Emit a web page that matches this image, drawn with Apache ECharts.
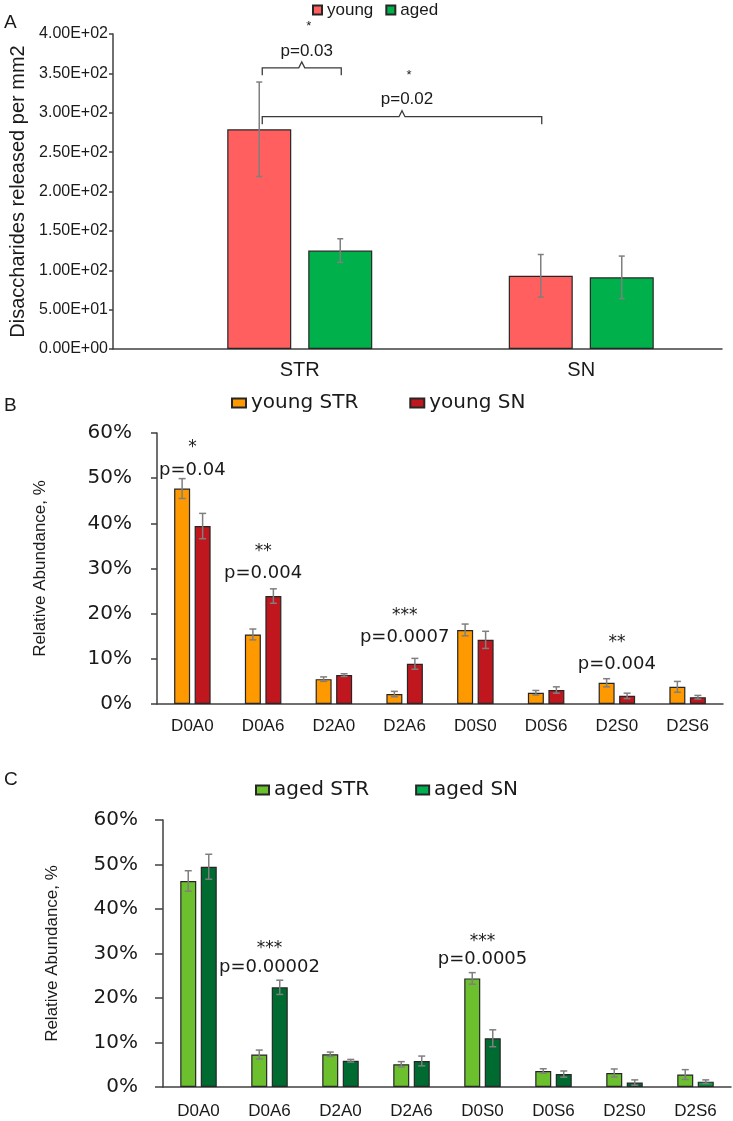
<!DOCTYPE html>
<html><head><meta charset="utf-8">
<script src="https://cdn.jsdelivr.net/npm/echarts@6/dist/echarts.min.js"></script>
<style>html,body{margin:0;padding:0;background:#fff}#c{width:733px;height:1121px}</style>
</head><body><div id="c"></div>
<script>
// ---------- Panel A data ----------
const catsA = ['STR', 'SN'];
const youngA = [279, 93];
const youngAErr = [60, 27];
const agedA = [125, 91];
const agedAErr = [15, 27];
// bracket spans: [catFrom, seriesFrom, catTo, seriesTo]
const bracketSpansA = [[0, 0, 0, 1], [0, 0, 1, 0]];
const bracketLevelsA = [357, 295];
const bracketPA = ['p=0.03', 'p=0.02'];
const bracketStarsA = ['*', '*'];

// ---------- Panel B data ----------
const catsBC = ['D0A0', 'D0A6', 'D2A0', 'D2A6', 'D0S0', 'D0S6', 'D2S0', 'D2S6'];
const youngSTR = [47.7, 15.4, 5.5, 2.2, 16.4, 2.5, 4.7, 3.8];
const youngSTRErr = [2.2, 1.2, 0.5, 0.6, 1.3, 0.5, 0.9, 1.2];
const youngSN = [39.4, 23.9, 6.4, 8.9, 14.2, 3.1, 1.8, 1.5];
const youngSNErr = [2.8, 1.6, 0.3, 1.2, 1.9, 0.7, 0.6, 0.4];
const annBCat = [0, 0, 1, 1, 3, 3, 6, 6];
const annBVal = [57.7, 51.8, 34.7, 29.0, 20.6, 14.8, 14.6, 8.85];
const annBText = ['*', 'p=0.04', '**', 'p=0.004', '***', 'p=0.0007', '**', 'p=0.004'];

// ---------- Panel C data ----------
const agedSTR = [46.3, 7.3, 7.35, 5.1, 24.4, 3.6, 3.15, 2.8];
const agedSTRErr = [2.3, 1.0, 0.5, 0.6, 1.3, 0.5, 0.9, 1.1];
const agedSN = [49.5, 22.4, 5.9, 5.85, 10.95, 2.9, 1.0, 1.2];
const agedSNErr = [2.8, 1.6, 0.3, 1.1, 1.9, 0.7, 0.6, 0.4];
const annCCat = [1, 1, 4, 4];
const annCVal = [32.1, 26.9, 33.7, 28.7];
const annCText = ['***', 'p=0.00002', '***', 'p=0.0005'];

// ---------- styling ----------
const AX = '#404040', TXT = '#1a1a1a', BORDER = '#262626', ERR = '#7f7f7f';
const BAR_A = 64, GAP_A = 17, OFF_A = (BAR_A + GAP_A) / 2;
const BAR_B = 16, GAP_B = 4.5, OFF_B = (BAR_B + GAP_B) / 2;

function sciFmt(v) {
  const [m, e] = Number(v).toExponential(2).split('e');
  const sign = e[0] === '-' ? '-' : '+';
  const d = e.replace(/[+-]/, '').padStart(2, '0');
  return m + 'E' + sign + d;
}

function errSeries(xi, yi, vals, errs, offset, cap) {
  return {
    type: 'custom', xAxisIndex: xi, yAxisIndex: yi, z: 10, silent: true,
    data: vals.map((v, i) => [i, v, errs[i]]),
    renderItem(params, api) {
      const i = api.value(0), v = api.value(1), e = api.value(2);
      const t = api.coord([i, v + e]), b = api.coord([i, v - e]);
      const x = t[0] + offset;
      const st = { stroke: ERR, lineWidth: 1.5 };
      return { type: 'group', children: [
        { type: 'line', shape: { x1: x, y1: t[1], x2: x, y2: b[1] }, style: st },
        { type: 'line', shape: { x1: x - cap, y1: t[1], x2: x + cap, y2: t[1] }, style: st },
        { type: 'line', shape: { x1: x - cap, y1: b[1], x2: x + cap, y2: b[1] }, style: st }
      ]};
    }
  };
}

function annSeries(xi, yi, cats, vals, texts) {
  return {
    type: 'custom', xAxisIndex: xi, yAxisIndex: yi, z: 20, silent: true,
    data: cats.map((c, i) => [c, vals[i]]),
    renderItem(params, api) {
      const p = api.coord([api.value(0), api.value(1)]);
      const t = texts[params.dataIndex];
      const star = t[0] === '*';
      const fs = star ? 17 : 18;
      return { type: 'text', x: p[0], y: p[1] + (star ? fs * 0.25 : 0),
        style: { text: t, align: 'center', verticalAlign: 'middle',
          fontSize: fs, fontFamily: 'DejaVu Sans', fill: TXT } };
    }
  };
}

const bracketSeries = {
  type: 'custom', xAxisIndex: 1, yAxisIndex: 1, z: 20, silent: true,
  data: bracketLevelsA.map((lv, i) => [bracketSpansA[i][0], lv]),
  renderItem(params, api) {
    const k = params.dataIndex;
    const s = bracketSpansA[k], lv = bracketLevelsA[k];
    const a = api.coord([s[0], lv]), b = api.coord([s[2], lv]);
    const x1 = a[0] + (s[1] ? OFF_A : -OFF_A) + 3;
    const x2 = b[0] + (s[3] ? OFF_A : -OFF_A) + 1;
    const y = a[1];
    const mid = (x1 + x2) / 2;
    const st = { stroke: '#3a3a3a', lineWidth: 1.3, fill: null };
    return { type: 'group', children: [
      { type: 'polyline', shape: { points: [[x1, y + 7.5], [x1, y], [mid - 3, y], [mid, y - 6], [mid + 3, y], [x2, y], [x2, y + 7.5]] }, style: st },
      { type: 'text', x: mid + 5, y: y - 17, style: { text: bracketPA[k], align: 'center', verticalAlign: 'middle', fontSize: 17, fontFamily: 'Liberation Sans', fill: TXT } },
      { type: 'text', x: mid + 7, y: y - 44 + 3, style: { text: bracketStarsA[k], align: 'center', verticalAlign: 'middle', fontSize: 13, fontFamily: 'Liberation Sans', fill: TXT } }
    ]};
  }
};

const baseBar = (name, xi, yi, data, color, w, gap) => ({
  type: 'bar', name, xAxisIndex: xi, yAxisIndex: yi, data,
  barWidth: w, barGap: gap, z: 5, silent: true,
  itemStyle: { color, borderColor: BORDER, borderWidth: 1.2 }
});

const valAxisCommon = {
  type: 'value', min: 0, max: 60, interval: 10,
  axisLine: { show: true, lineStyle: { color: AX, width: 1.5 } },
  axisTick: { show: true, inside: false, length: 6, lineStyle: { color: AX, width: 1.5 } },
  splitLine: { show: false },
  nameLocation: 'middle',
  nameTextStyle: { fontSize: 17, fontFamily: 'Liberation Sans', color: TXT }
};
const catAxisCommon = {
  type: 'category', data: catsBC,
  axisLine: { show: true, lineStyle: { color: AX, width: 1.5 } },
  axisTick: { show: false },
  axisLabel: { fontSize: 17, fontFamily: 'Liberation Sans', color: TXT, interval: 0 }
};

const agedSNData = agedSN.map((v, i) => i === 7 ? { value: v, itemStyle: { color: '#0f9a45' } } : v);

const option = {
  animation: false,
  backgroundColor: '#ffffff',
  title: [
    { text: 'A', left: 4, top: 13, padding: 0, textStyle: { fontSize: 19, fontWeight: 'normal', fontFamily: 'Liberation Sans', color: TXT } },
    { text: 'B', left: 4, top: 396, padding: 0, textStyle: { fontSize: 19, fontWeight: 'normal', fontFamily: 'Liberation Sans', color: TXT } },
    { text: 'C', left: 4, top: 770, padding: 0, textStyle: { fontSize: 19, fontWeight: 'normal', fontFamily: 'Liberation Sans', color: TXT } }
  ],
  legend: [
    { data: ['young', 'aged'], left: 312, top: 1.5, padding: 0, itemWidth: 9, itemHeight: 9, itemGap: 12, icon: 'rect', selectedMode: false,
      textStyle: { fontSize: 17, fontFamily: 'Liberation Sans', color: TXT } },
    { data: ['young STR', 'young SN'], left: 231, top: 393, padding: 0, itemWidth: 14, itemHeight: 9, itemGap: 51, icon: 'rect', selectedMode: false,
      textStyle: { fontSize: 20, fontFamily: 'DejaVu Sans', color: TXT } },
    { data: ['aged STR', { name: 'aged SN', itemStyle: { color: '#00b050' } }], left: 255, top: 780, padding: 0, itemWidth: 13, itemHeight: 9, itemGap: 46, icon: 'rect', selectedMode: false,
      textStyle: { fontSize: 20, fontFamily: 'DejaVu Sans', color: TXT } }
  ],
  grid: [
    { left: 113, right: 11, top: 34, height: 315, outerBoundsMode: 'none' },
    { left: 159, right: 11, top: 34, height: 315, outerBoundsMode: 'none' },
    { left: 157, right: 10, top: 433, height: 271, outerBoundsMode: 'none' },
    { left: 163, right: 2, top: 820, height: 267, outerBoundsMode: 'none' }
  ],
  xAxis: [
    { gridIndex: 0, type: 'category', data: [''], axisLine: { show: true, lineStyle: { color: AX, width: 1.5 } }, axisTick: { show: false }, axisLabel: { show: false } },
    { gridIndex: 1, type: 'category', data: catsA, axisLine: { show: false }, axisTick: { show: false },
      axisLabel: { fontSize: 20, fontFamily: 'Liberation Sans', color: TXT, margin: 11 } },
    Object.assign({ gridIndex: 2 }, catAxisCommon, { axisLabel: Object.assign({}, catAxisCommon.axisLabel, { margin: 14 }) }),
    Object.assign({ gridIndex: 3 }, catAxisCommon, { axisLabel: Object.assign({}, catAxisCommon.axisLabel, { margin: 16 }) })
  ],
  yAxis: [
    { gridIndex: 0, type: 'value', min: 0, max: 400, interval: 50,
      axisLine: { show: true, lineStyle: { color: AX, width: 1.5 } },
      axisTick: { show: true, inside: false, length: 4, lineStyle: { color: AX, width: 1.5 } },
      splitLine: { show: false },
      axisLabel: { fontSize: 16, fontFamily: 'Liberation Sans', color: TXT, margin: 5, formatter: sciFmt },
      name: 'Disaccharides released per mm2', nameLocation: 'middle', nameGap: 82,
      nameTextStyle: { fontSize: 20, fontFamily: 'Liberation Sans', color: TXT } },
    { gridIndex: 1, type: 'value', min: 0, max: 400, show: false },
    Object.assign({ gridIndex: 2 }, valAxisCommon, {
      axisLabel: { fontSize: 20, fontFamily: 'DejaVu Sans', color: TXT, margin: 25, formatter: '{value}%' },
      name: 'Relative Abundance, %', nameGap: 108 }),
    Object.assign({ gridIndex: 3 }, valAxisCommon, {
      axisTick: Object.assign({}, valAxisCommon.axisTick, { length: 8 }),
      axisLabel: { fontSize: 20, fontFamily: 'DejaVu Sans', color: TXT, margin: 25, formatter: '{value}%' },
      name: 'Relative Abundance, %', nameGap: 102 })
  ],
  series: [
    baseBar('young', 1, 1, youngA, '#ff5f5f', BAR_A, (GAP_A / BAR_A * 100) + '%'),
    baseBar('aged', 1, 1, agedA, '#00b04a', BAR_A, (GAP_A / BAR_A * 100) + '%'),
    errSeries(1, 1, youngA, youngAErr, -OFF_A, 3),
    errSeries(1, 1, agedA, agedAErr, OFF_A, 3),
    bracketSeries,

    baseBar('young STR', 2, 2, youngSTR, '#ff9900', BAR_B, (GAP_B / BAR_B * 100) + '%'),
    baseBar('young SN', 2, 2, youngSN, '#c0161e', BAR_B, (GAP_B / BAR_B * 100) + '%'),
    errSeries(2, 2, youngSTR, youngSTRErr, -OFF_B, 3.5),
    errSeries(2, 2, youngSN, youngSNErr, OFF_B, 3.5),
    annSeries(2, 2, annBCat, annBVal, annBText),

    baseBar('aged STR', 3, 3, agedSTR, '#6cc02e', BAR_B, (GAP_B / BAR_B * 100) + '%'),
    baseBar('aged SN', 3, 3, agedSNData, '#006b30', BAR_B, (GAP_B / BAR_B * 100) + '%'),
    errSeries(3, 3, agedSTR, agedSTRErr, -OFF_B, 3.5),
    errSeries(3, 3, agedSN, agedSNErr, OFF_B, 3.5),
    annSeries(3, 3, annCCat, annCVal, annCText)
  ]
};

const chart = echarts.init(document.getElementById('c'), null, { renderer: 'canvas' });
chart.setOption(option);
</script>
</body></html>
